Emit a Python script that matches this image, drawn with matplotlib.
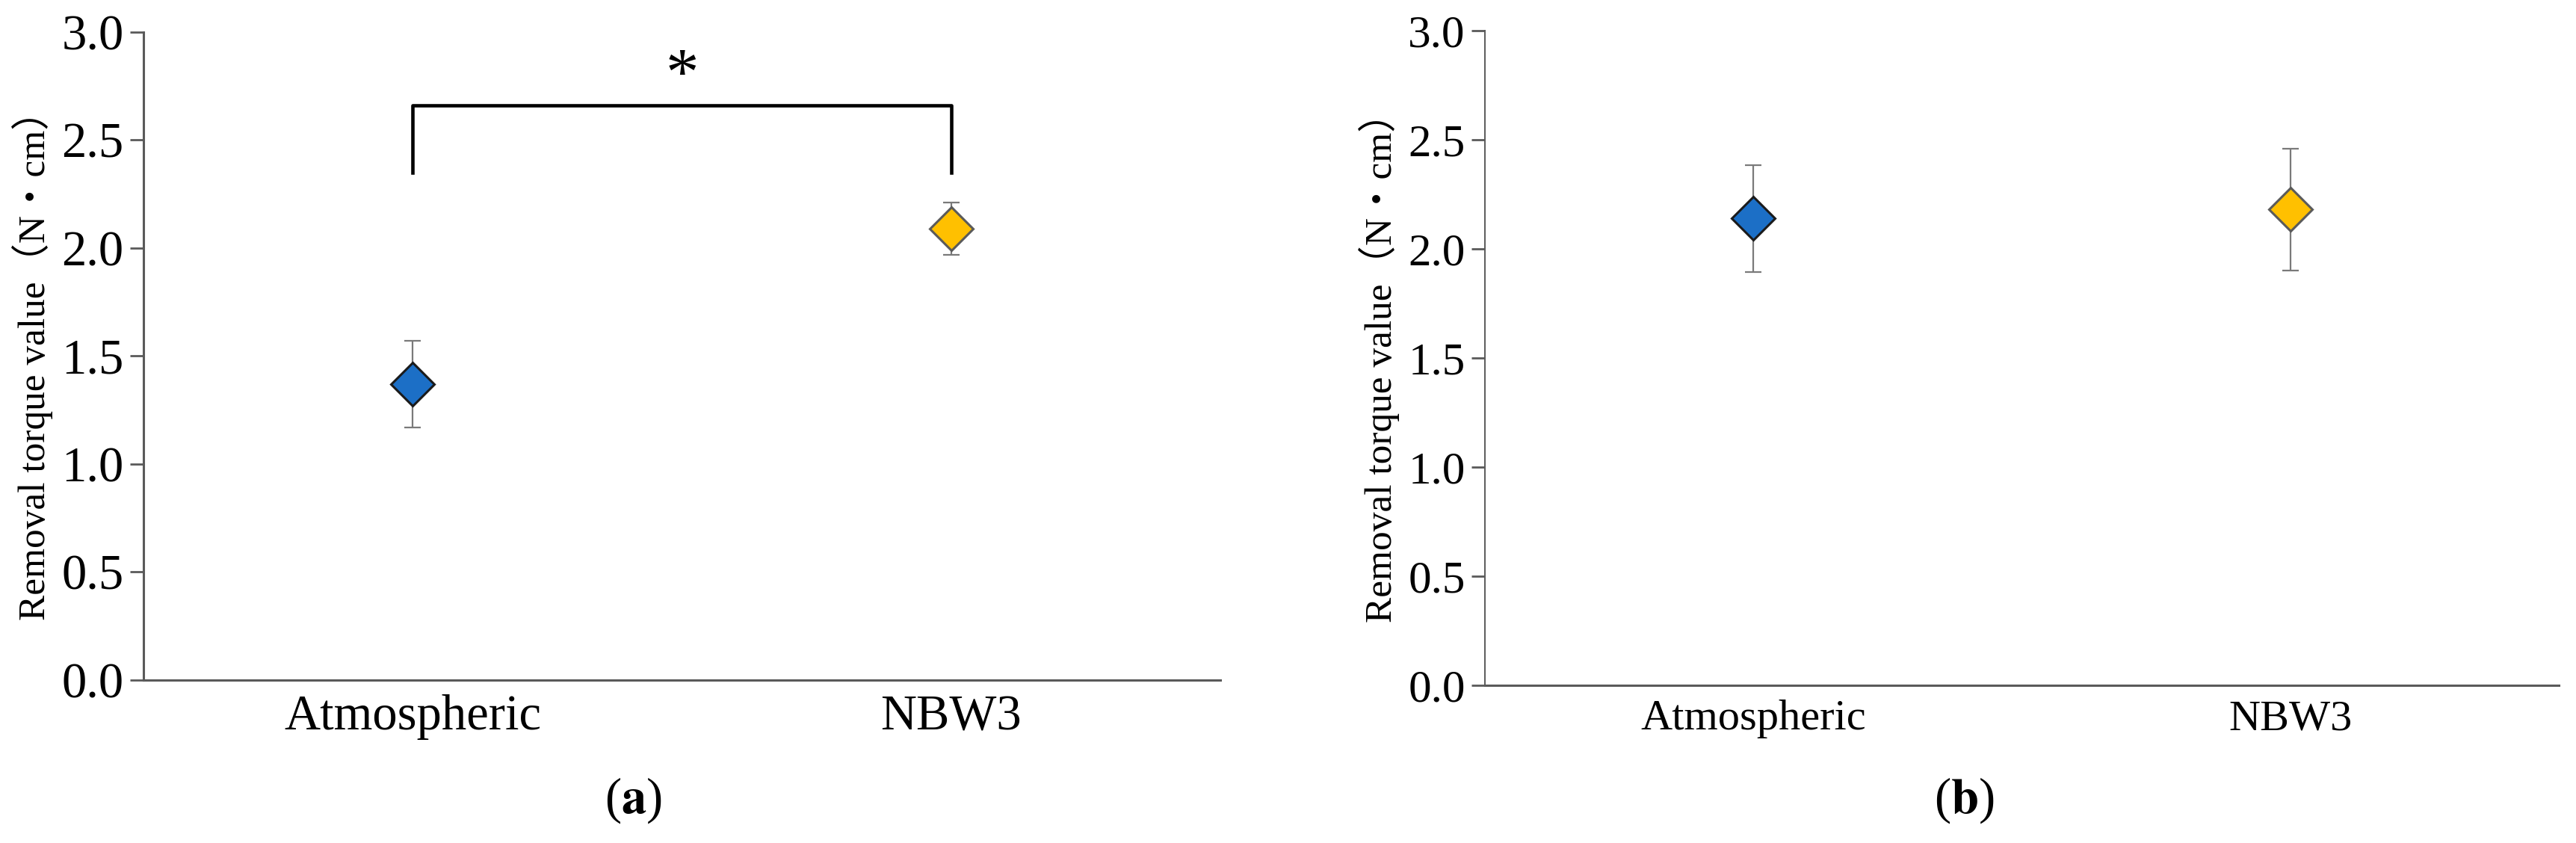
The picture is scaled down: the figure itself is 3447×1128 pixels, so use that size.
import matplotlib
matplotlib.use('Agg')
import matplotlib.pyplot as plt

plt.rcParams['font.family'] = ['Liberation Serif', 'Noto Sans CJK JP']
plt.rcParams['mathtext.fontset'] = 'stix'

groups = ['Atmospheric', 'NBW3']
colors = ['#1c6fc6', '#ffc000']
edges = ['#1a1a1a', '#5a5a5a']

# panel (a)
mean_a = [1.37, 2.09]
err_a = [0.20, 0.12]
# panel (b)
mean_b = [2.14, 2.18]
err_b = [0.245, 0.28]

# significance bracket in (a)
bracket_low = 2.35
bracket_high = 2.66
star_y = 2.79

ylabel = 'Removal torque value（N・cm）'
yticks = [0.0, 0.5, 1.0, 1.5, 2.0, 2.5, 3.0]

fig = plt.figure(figsize=(34.48, 11.28), dpi=100)
ax_a = fig.add_axes([0.0557, 0.1933, 0.4179, 0.7686])
ax_b = fig.add_axes([0.5763, 0.1871, 0.4168, 0.7766])


def draw(ax, means, errs, tick_fs, cat_fs):
    for i in range(len(groups)):
        ax.errorbar(i, means[i], yerr=errs[i], fmt='none', ecolor='#7a7a7a',
                    elinewidth=1.6, capsize=8, capthick=1.6, zorder=2)
        ax.plot(i, means[i], marker='D', markersize=30, color=colors[i],
                markeredgecolor=edges[i], markeredgewidth=2.2, zorder=3)
    ax.set_xlim(-0.5, 1.5)
    ax.set_ylim(0, 3.0)
    ax.set_yticks(yticks)
    ax.set_yticklabels(['%.1f' % t for t in yticks])
    ax.set_xticks(range(len(groups)))
    ax.set_xticklabels(groups)
    for s in ['top', 'right']:
        ax.spines[s].set_visible(False)
    for s in ['left', 'bottom']:
        ax.spines[s].set_color('#5a5a5a')
        ax.spines[s].set_linewidth(2.2)
    ax.tick_params(axis='y', direction='out', length=13, width=2,
                   color='#5a5a5a', labelsize=tick_fs, pad=6)
    ax.tick_params(axis='x', length=0, labelsize=cat_fs, pad=14)
    ax.set_ylabel(ylabel, fontsize=37, labelpad=8)


draw(ax_a, mean_a, err_a, 48, 48)
draw(ax_b, mean_b, err_b, 44, 42)
ax_b.spines['left'].set_linewidth(1.4)

ax_a.plot([0, 0, 1, 1], [bracket_low, bracket_high, bracket_high, bracket_low],
          color='black', linewidth=3.3, zorder=1)
ax_a.text(0.5, star_y, '*', ha='center', va='center', fontsize=64)

fig.text(847 / 3448, 1 - 1071 / 1128, r'($\mathbf{a}$)', ha='center', va='center', fontsize=48)
fig.text(2628 / 3448, 1 - 1071 / 1128, r'($\mathbf{b}$)', ha='center', va='center', fontsize=48)

fig.savefig('out.png', dpi=100)
